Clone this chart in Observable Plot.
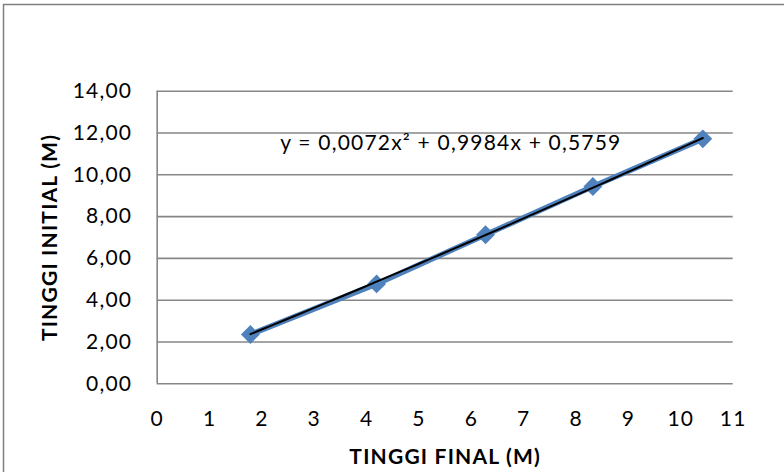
<!DOCTYPE html>
<html>
<head>
<meta charset="utf-8">
<script src="https://cdn.jsdelivr.net/npm/d3@7"></script>
<script src="https://cdn.jsdelivr.net/npm/@observablehq/plot@0.6"></script>
<style>
  html, body { margin: 0; padding: 0; background: #fff; }
  #chart { position: relative; width: 784px; height: 472px; overflow: hidden; }
  svg { font-family: Lato, "Open Sans", sans-serif; }
  svg text { letter-spacing: 1.2px; }
</style>
</head>
<body>
<div id="chart"></div>
<script>
// Measured heights: final (x) vs initial (y), in metres
const tinggiFinal = [1.78, 4.19, 6.27, 8.32, 10.42];
const tinggiInitial = [2.36, 4.78, 7.13, 9.44, 11.72];

// Polynomial trendline coefficients (order 2): a x^2 + b x + c
const trendCoef = [0.0072, 0.9984, 0.5759];
const trendLabel = "y = 0,0072x² + 0,9984x + 0,5759";

const xTicks = [0, 1, 2, 3, 4, 5, 6, 7, 8, 9, 10, 11];
const yTicks = [0, 2, 4, 6, 8, 10, 12, 14];

const xTitle = "TINGGI FINAL (M)";
const yTitle = "TINGGI INITIAL (M)";

const points = tinggiFinal.map((x, i) => ({x, y: tinggiInitial[i]}));

// Trendline sampled across the data range from its equation
const [a, b, c] = trendCoef;
const xMin = d3.min(tinggiFinal), xMax = d3.max(tinggiFinal);
const trend = d3.range(0, 41).map(i => {
  const x = xMin + (xMax - xMin) * i / 40;
  return {x, y: a * x * x + b * x + c};
});

const comma2 = d => d.toFixed(2).replace(".", ",");

const blue = "#4F81BD";
const gridColor = "#878787";

const plot = Plot.plot({
  width: 784,
  height: 472,
  marginLeft: 156.7,
  marginRight: 51.3,
  marginTop: 90.7,
  marginBottom: 88.7,
  style: {fontFamily: "Lato, 'Open Sans', sans-serif", fontSize: "21px", color: "#000", background: "#fff", overflow: "visible"},
  x: {domain: [0, 11]},
  y: {domain: [0, 14]},
  marks: [
    Plot.ruleY(yTicks, {stroke: gridColor, strokeWidth: 1.6}),
    Plot.ruleX([0], {stroke: gridColor, strokeWidth: 1.6}),
    Plot.axisY({ticks: yTicks, tickSize: 0, tickPadding: 25, tickFormat: comma2, label: null, fontSize: 21}),
    Plot.axisX({ticks: xTicks, tickSize: 0, tickPadding: 27, tickFormat: d => String(d), label: null, fontSize: 21}),
    Plot.line(points, {x: "x", y: "y", stroke: blue, strokeWidth: 5.5}),
    Plot.dot(points, {x: "x", y: "y", symbol: "diamond2", r: 8.5, fill: blue, stroke: "none"}),
    Plot.line(trend, {x: "x", y: "y", stroke: "#000", strokeWidth: 2}),
    Plot.text([trendLabel], {x: 2.35, y: 11.5, text: d => d, textAnchor: "start", fontSize: 21, fill: "#000"}),
    Plot.text([xTitle], {frameAnchor: "bottom", dy: 80, text: d => d, fontSize: 21, fontWeight: "bold", fill: "#000"}),
    Plot.text([yTitle], {frameAnchor: "left", dx: -107, rotate: -90, textAnchor: "middle", text: d => d, fontSize: 21, fontWeight: "bold", fill: "#000"})
  ]
});

// Outer chart-area border
d3.select(plot).insert("rect", ":first-child")
  .attr("x", 3.5).attr("y", 4.5)
  .attr("width", 800).attr("height", 500)
  .attr("fill", "#fff")
  .attr("stroke", "#808080")
  .attr("stroke-width", 1.5);

document.getElementById("chart").appendChild(plot);
</script>
</body>
</html>
